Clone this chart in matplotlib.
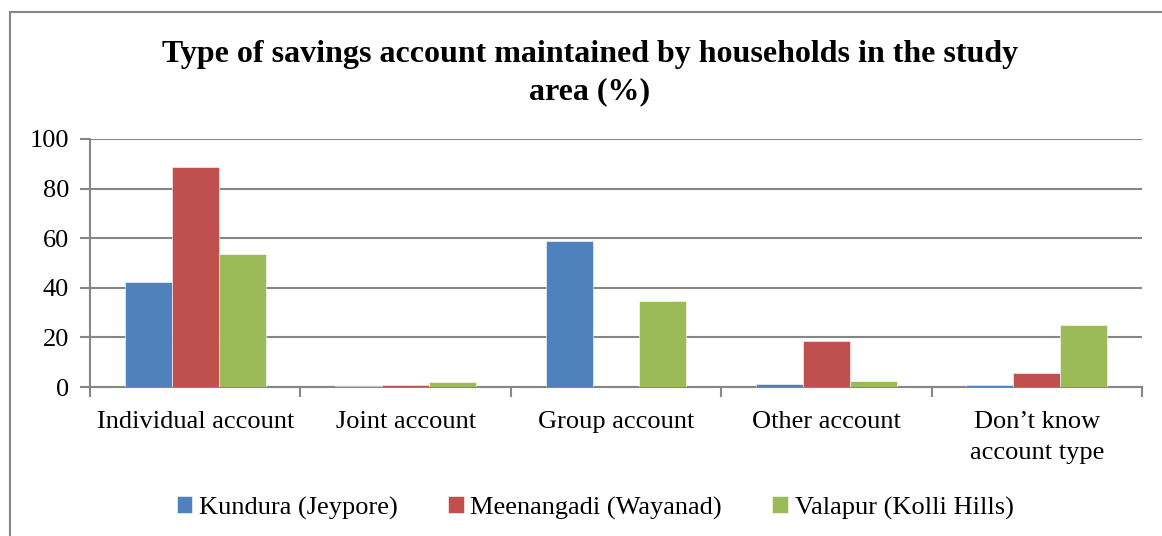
import matplotlib.pyplot as plt
import numpy as np
from matplotlib.lines import Line2D

categories = ["Individual account", "Joint account", "Group account",
              "Other account", "Don\u2019t know\naccount type"]
series_names = ["Kundura (Jeypore)", "Meenangadi (Wayanad)", "Valapur (Kolli Hills)"]
kundura = [42.2, 0.3, 58.9, 1.3, 0.8]
meenangadi = [88.8, 0.9, 0.0, 18.5, 5.8]
valapur = [53.6, 2.2, 34.6, 2.4, 24.8]
colors = ["#4F81BD", "#C0504D", "#9BBB59"]

plt.rcParams["font.family"] = ["Liberation Serif", "DejaVu Serif"]
grid_col = "#868686"

fig = plt.figure(figsize=(11.62, 5.36), dpi=100)
ax = fig.add_axes([90 / 1162, 1 - 387 / 536, (1142 - 90) / 1162, (387 - 139) / 536])

x = np.arange(len(categories))
w = 0.223
for k, vals in enumerate([kundura, meenangadi, valapur]):
    ax.bar(x + (k - 1) * w, vals, w, color=colors[k], label=series_names[k],
           edgecolor="white", linewidth=0.4, zorder=3)

ax.set_xlim(-0.5, len(categories) - 0.5)
ax.set_ylim(0, 100)
ax.set_yticks(range(0, 101, 20))
ax.yaxis.grid(True, color=grid_col, linewidth=1.5, zorder=0)
ax.set_axisbelow(True)

# category labels centred, tick marks on the boundaries
ax.set_xticks(x)
ax.set_xticklabels(categories, fontsize=19, linespacing=1.55)
ax.tick_params(axis="x", length=0, pad=17)
ax.set_xticks(np.arange(-0.5, len(categories)), minor=True)
ax.tick_params(axis="x", which="minor", length=7, width=1.5, color=grid_col, direction="out")
ax.tick_params(axis="y", labelsize=19, length=7, width=1.5, color=grid_col, pad=8)

for s in ["top", "right"]:
    ax.spines[s].set_visible(False)
for s in ["left", "bottom"]:
    ax.spines[s].set_color(grid_col)
    ax.spines[s].set_linewidth(1.5)

fig.text(590 / 1162, 1 - 73 / 536,
         "Type of savings account maintained by households in the study\narea (%)",
         ha="center", va="center", fontsize=23, fontweight="bold", linespacing=1.38)

fig.legend(loc="center", bbox_to_anchor=(595 / 1162, 1 - 508 / 536), ncol=3,
           frameon=False, fontsize=19, handlelength=0.6, handleheight=0.6,
           handletextpad=0.25, columnspacing=1.9)

# chart frame (cut off on the right and bottom)
fig.add_artist(Line2D([10 / 1162, 10 / 1162], [0, 1 - 12 / 536], color=grid_col, lw=1.5))
fig.add_artist(Line2D([10 / 1162, 1], [1 - 12 / 536, 1 - 12 / 536], color=grid_col, lw=1.5))

fig.savefig("out.png", dpi=100)
